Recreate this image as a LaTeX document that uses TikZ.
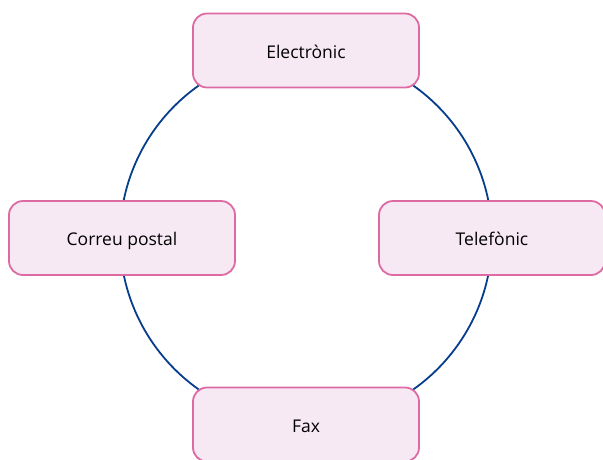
\documentclass[tikz,border=0pt]{standalone}
\usepackage{fontspec}
\setmainfont{Open Sans}
\definecolor{boxpink}{HTML}{DE6AA3}
\definecolor{boxfill}{HTML}{F7E9F3}
\definecolor{ringblue}{HTML}{063E8C}
\tikzset{
  channel/.style={draw=boxpink, fill=boxfill, line width=1.8pt, rounded corners=14pt,
    minimum width=226pt, minimum height=74pt, inner sep=0pt, text height=15pt, text depth=0pt,
    font=\fontsize{17.5}{20}\selectfont},
  ring/.style={draw=ringblue, line width=1.8pt}
}
\begin{document}
\begin{tikzpicture}[x=1pt,y=-1pt]
\useasboundingbox (0,0) rectangle (603,459);
\coordinate (c) at (306,237.5);
\draw[ring] (c) circle[radius=186];
\node[channel] (top) at (306,50.5) {Electrònic};
\node[channel] (left) at (122,238) {Correu postal};
\node[channel] (right) at (492,238) {Telefònic};
\node[channel] (bottom) at (306,424.5) {Fax};
\end{tikzpicture}
\end{document}
